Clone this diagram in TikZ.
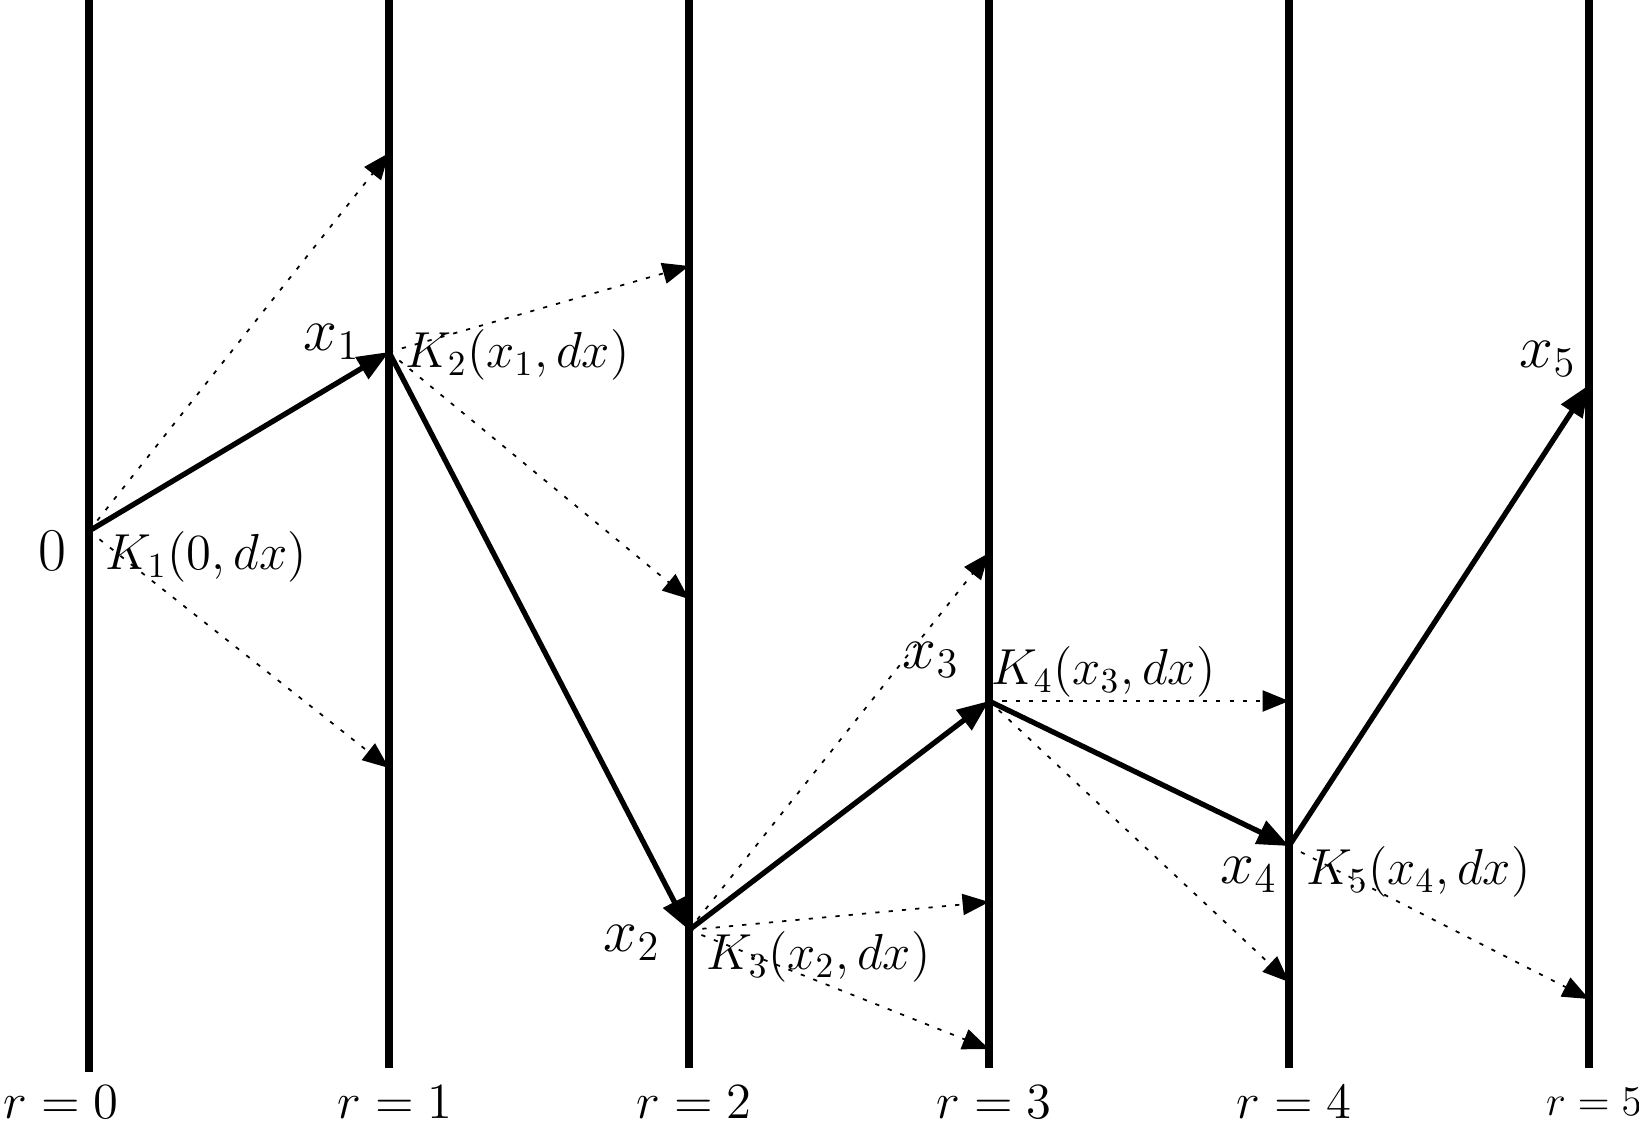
\documentclass[tikz,border=0pt]{standalone}
\usetikzlibrary{arrows.meta}
\begin{document}
\begin{tikzpicture}[x=0.01cm,y=-0.01cm,
  axisline/.style={line width=2.5pt},
  walk/.style={line width=1.5pt,-{Triangle[length=9pt,width=7pt]}},
  alt/.style={line width=0.5pt,dash pattern=on 1.2pt off 2.6pt,-{Triangle[length=7.5pt,width=6pt]}},
  lbl/.style={inner sep=0pt,font=\Large},
  plbl/.style={inner sep=0pt,font=\LARGE},
  klbl/.style={inner sep=0pt,font=\Large,anchor=west}]
\useasboundingbox (0,0) rectangle (1639,1130);
% vertical lines
\foreach \i/\x/\yb in {0/89/1072,1/389/1068,2/689/1068,3/989/1068,4/1289/1068,5/1589/1068}{
  \coordinate (t\i) at (\x,0);
  \coordinate (b\i) at (\x,\yb);
  \draw[axisline] (t\i) -- (b\i);
}
\foreach \i/\x in {0/61,1/395,2/694,3/994,4/1294}{
  \node[lbl] (r\i) at (\x,1102) {$r=\i$};
}
\node[inner sep=0pt,font=\large] (r5) at (1594,1102) {$r=5$};
% points
\coordinate (p0) at (89,531);
\coordinate (p1) at (389,352);
\coordinate (p2) at (689,930);
\coordinate (p3) at (989,701);
\coordinate (p4) at (1289,846);
\coordinate (p5) at (1589,385);
% alternative targets
\coordinate (a1) at (389,153);
\coordinate (a2) at (389,768);
\coordinate (a3) at (689,266);
\coordinate (a4) at (689,599);
\coordinate (a5) at (989,553);
\coordinate (a6) at (989,902);
\coordinate (a7) at (989,1049);
\coordinate (a8) at (1289,701);
\coordinate (a9) at (1289,982);
\coordinate (a10) at (1589,999);
% dotted arrows
\draw[alt] (p0) -- (a1);
\draw[alt] (p0) -- (a2);
\draw[alt] (p1) -- (a3);
\draw[alt] (p1) -- (a4);
\draw[alt] (p2) -- (a5);
\draw[alt] (p2) -- (a6);
\draw[alt] (p2) -- (a7);
\draw[alt] (p3) -- (a8);
\draw[alt] (p3) -- (a9);
\draw[alt] (p4) -- (a10);
% walk
\draw[walk] (p0) -- (p1);
\draw[walk] (p1) -- (p2);
\draw[walk] (p2) -- (p3);
\draw[walk] (p3) -- (p4);
\draw[walk] (p4) -- (p5);
% labels
\node[plbl] (l0) at (52,551) {$0$};
\node[plbl] (l1) at (332,342) {$x_1$};
\node[plbl] (l2) at (632,943) {$x_2$};
\node[plbl] (l3) at (931,660) {$x_3$};
\node[plbl] (l4) at (1249,875) {$x_4$};
\node[plbl] (l5) at (1548,359) {$x_5$};
\node[klbl] (k1) at (105,557) {$K_1(0,dx)$};
\node[klbl] (k2) at (405,355) {$K_2(x_1,dx)$};
\node[klbl] (k3) at (706,957) {$K_3(x_2,dx)$};
\node[klbl] (k4) at (991,672) {$K_4(x_3,dx)$};
\node[klbl] (k5) at (1306,872) {$K_5(x_4,dx)$};
\end{tikzpicture}
\end{document}
